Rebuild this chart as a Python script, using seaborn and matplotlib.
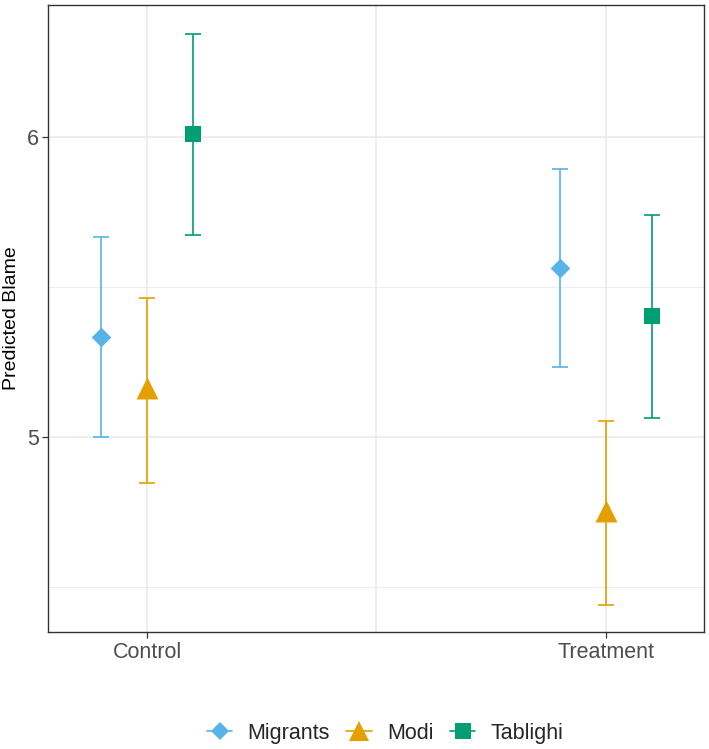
import numpy as np
import pandas as pd
import matplotlib
matplotlib.use('Agg')
import matplotlib.pyplot as plt
from matplotlib.lines import Line2D
import seaborn as sns

sns.set_theme(style='white')
plt.rcParams['font.family'] = ['Liberation Sans', 'DejaVu Sans']

# data
conditions = ['Control', 'Treatment']
groups = ['Migrants', 'Modi', 'Tablighi']
estimate = {'Migrants': [5.331, 5.562], 'Modi': [5.161, 4.753], 'Tablighi': [6.010, 5.401]}
lower = {'Migrants': [5.000, 5.231], 'Modi': [4.846, 4.438], 'Tablighi': [5.672, 5.064]}
upper = {'Migrants': [5.666, 5.893], 'Modi': [5.462, 5.054], 'Tablighi': [6.344, 5.739]}

colors = {'Migrants': '#56B4E9', 'Modi': '#E69F00', 'Tablighi': '#009E73'}
markers = {'Migrants': 'D', 'Modi': '^', 'Tablighi': 's'}
msizes = {'Migrants': 100, 'Modi': 250, 'Tablighi': 140}
dodge = {'Migrants': -0.1, 'Modi': 0.0, 'Tablighi': 0.1}

rows = []
for g in groups:
    for i, c in enumerate(conditions):
        rows.append({'condition': c, 'group': g, 'x': i + 1 + dodge[g],
                     'est': estimate[g][i], 'lo': lower[g][i], 'hi': upper[g][i]})
df = pd.DataFrame(rows)

fig = plt.figure(figsize=(7.09, 7.49), dpi=100)
ax = fig.add_axes([0.0684, 0.1562, 0.9249, 0.8371])

# grid like ggplot theme_bw
for y in [4.5, 5.5]:
    ax.axhline(y, color='#EBEBEB', lw=0.6, zorder=0)
for y in [5, 6]:
    ax.axhline(y, color='#EBEBEB', lw=1.2, zorder=0)
ax.axvline(1.5, color='#EBEBEB', lw=1.2, zorder=0)
for x in [1, 2]:
    ax.axvline(x, color='#EBEBEB', lw=1.2, zorder=0)

for g in groups:
    d = df[df['group'] == g]
    ax.errorbar(d['x'], d['est'], yerr=[d['est'] - d['lo'], d['hi'] - d['est']],
                fmt='none', ecolor=colors[g], elinewidth=1.2, capsize=5.5, capthick=1.2, zorder=2)
    sns.scatterplot(data=d, x='x', y='est', color=colors[g], marker=markers[g],
                    s=msizes[g], linewidth=0, ax=ax, zorder=3, legend=False)

ax.set_xlim(0.785, 2.215)
ax.set_ylim(4.349, 6.439)
ax.set_xticks([1, 2])
ax.set_xticklabels(conditions)
ax.set_yticks([5, 6])
ax.set_yticklabels(['5', '6'])
ax.set_xlabel('')
ax.set_ylabel('Predicted Blame', fontsize=14, color='black')
ax.yaxis.set_label_coords(-0.044, 0.5)
ax.tick_params(axis='both', which='major', length=4, width=0.9, color='#333333',
               labelsize=15.5, labelcolor='#4D4D4D', direction='out', pad=3,
               bottom=True, left=True)
for sp in ax.spines.values():
    sp.set_color('#333333')
    sp.set_linewidth(1.0)

handles = [Line2D([0], [0], color=colors[g], marker=markers[g], lw=1.2,
                  markersize={'Migrants': 9, 'Modi': 14, 'Tablighi': 11}[g],
                  markeredgewidth=0) for g in groups]
fig.legend(handles, groups, loc='center', bbox_to_anchor=(0.543, 0.021), ncol=3,
           frameon=False, fontsize=15.5, handlelength=1.2, handletextpad=0.7,
           columnspacing=0.75, borderpad=0, borderaxespad=0)

fig.savefig('out.png', dpi=100)
